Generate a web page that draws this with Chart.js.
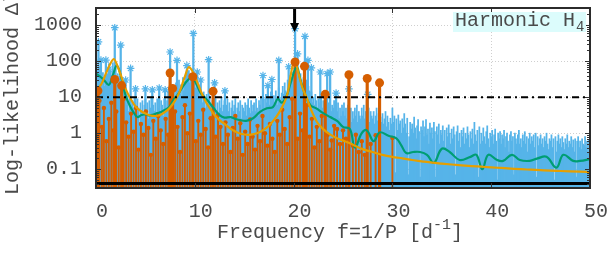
<!DOCTYPE html>
<html>
<head>
<meta charset="utf-8">
<script src="https://cdn.jsdelivr.net/npm/chart.js@4.4.0/dist/chart.umd.min.js"></script>
<style>
  html, body { margin: 0; padding: 0; background: #fff; }
  #wrap { width: 607px; height: 264px; }
</style>
</head>
<body>
<div id="wrap"><canvas id="chart" width="607" height="264"></canvas></div>
<script>
/* ---------- data ---------- */
const xTicks = [0, 10, 20, 30, 40, 50];
const yTicks = [0.1, 1, 10, 100, 1000];
const yRange = [0.03, 3000];
const xRange = [0, 50];

// dense periodogram, one value every 0.1 d^-1 (rows = 1 d^-1)
const specStep = 0.1;
const specVal = [
  30, 55, 18, 40, 70, 25, 12, 48, 33, 20,
  60, 22, 45, 85, 30, 55, 40, 90, 35, 50,
  70, 28, 45, 20, 38, 15, 25, 10, 18, 8,
  14, 6, 11, 4, 9, 7, 3, 8, 5, 10,
  6, 3, 9, 5, 2, 7, 4, 8, 3, 6,
  9, 4, 7, 2.5, 8, 5, 10, 3, 6, 4,
  7, 3, 9, 5, 11, 4, 8, 6, 3, 9,
  12, 5, 8, 15, 6, 20, 9, 13, 7, 18,
  10, 25, 8, 16, 30, 12, 22, 9, 35, 15,
  28, 45, 20, 38, 55, 25, 40, 30, 60, 22,
  35, 18, 28, 12, 22, 9, 16, 11, 7, 14,
  9, 5, 12, 7, 4, 10, 6, 3, 8, 5,
  6, 9, 4, 7, 3, 8, 5, 10, 4, 6,
  8, 3, 6, 9, 4, 7, 2.5, 5, 8, 4,
  6, 9, 3, 5, 7, 4, 8, 2.5, 6, 5,
  4, 7, 3, 6, 9, 5, 3.5, 8, 4, 6,
  7, 4, 9, 5, 3, 8, 6, 10, 4, 7,
  9, 5, 12, 7, 4, 10, 6, 14, 8, 5,
  11, 7, 15, 9, 6, 18, 10, 8, 13, 20,
  12, 25, 15, 9, 30, 18, 40, 22, 35, 50,
  45, 80, 60, 35, 55, 40, 28, 45, 30, 20,
  35, 25, 18, 30, 12, 20, 15, 9, 14, 7,
  10, 6, 12, 8, 5, 9, 4, 7, 11, 5,
  8, 4, 9, 6, 3, 7, 5, 10, 4, 6,
  5, 8, 3, 6, 4, 7, 2.5, 5, 3, 6,
  4, 7, 3, 5, 2.5, 6, 4, 3, 5, 2,
  4, 2.5, 5, 3, 6, 2, 4, 3, 2.5, 5,
  3, 6, 2.5, 4, 8, 3, 5, 2, 4, 3,
  2.5, 4, 1.8, 3, 5, 2.2, 3.5, 0.06, 2.8, 2,
  3.5, 1.8, 2.5, 4, 1.5, 3, 2, 1.2, 2.6, 1.8,
  5, 2, 3, 0.08, 2.5, 1.2, 3.2, 1.8, 2.2, 1,
  2.5, 1.4, 3.5, 1.8, 1, 2.6, 0.07, 0.8, 2, 1.3,
  1.8, 1, 2.8, 1.4, 0.7, 1.6, 2.4, 1.1, 0.06, 1.5,
  1.2, 2.2, 0.8, 1.5, 2.4, 0.9, 1.3, 0.5, 1.9, 1,
  1.4, 0.7, 2, 1.1, 0.06, 1.5, 0.9, 1.8, 0.5, 1.2,
  0.9, 1.6, 0.6, 1.2, 0.4, 1.4, 0.8, 1.7, 1, 0.5,
  1.3, 0.7, 1.5, 0.9, 0.07, 1.1, 1.6, 0.6, 1, 0.4,
  1.2, 0.8, 1.4, 0.5, 1, 0.7, 1.5, 0.9, 0.4, 1.1,
  0.7, 1.3, 0.5, 2, 0.9, 0.6, 1.2, 0.06, 1.5, 0.5,
  1, 0.6, 1.4, 0.8, 0.5, 1.1, 1.6, 0.7, 0.4, 1,
  0.8, 1.2, 0.5, 0.9, 1.3, 0.6, 0.05, 1, 0.7, 1.1,
  0.5, 0.9, 0.7, 1.2, 0.4, 0.8, 1, 0.6, 0.3, 0.9,
  1.1, 0.6, 0.8, 0.07, 1, 0.7, 0.5, 0.9, 1.2, 0.5,
  0.7, 0.4, 0.9, 0.6, 1.1, 0.5, 0.8, 0.3, 0.7, 1,
  0.5, 0.8, 0.6, 0.9, 0.4, 1, 0.06, 0.8, 0.45, 0.7,
  0.9, 0.5, 0.7, 0.4, 0.8, 0.6, 1, 0.5, 0.35, 0.7,
  0.6, 0.9, 0.4, 0.7, 0.05, 0.8, 0.3, 0.6, 0.9, 0.5,
  0.7, 0.4, 0.8, 0.55, 0.35, 0.7, 0.5, 0.9, 0.4, 0.6,
  0.5, 0.8, 0.4, 0.65, 0.3, 0.7, 0.06, 0.6, 0.8, 0.4,
  0.6, 0.35, 0.7, 0.5, 0.45, 0.8, 0.4, 0.6, 0.3, 0.65,
  0.5
];

// strongest single-frequency peaks (asterisks)
const starFreq = [0.25, 0.5, 1.0, 1.3, 1.9, 2.5, 3.0, 3.5, 4.0, 5.0, 5.7, 6.4, 7.0, 7.5, 8.2, 9.2, 9.85, 10.25, 10.6, 11.4, 12.0, 13.05, 16.9, 17.4, 17.8, 18.5, 19.5, 20.15, 20.4, 21.15, 21.45, 21.8, 22.7, 23.4, 23.7, 24.3, 25.6, 27.5];
const starVal  = [345, 107, 107, 60, 850, 280, 30, 63, 17, 17, 16, 18, 16, 180, 105, 75, 590, 50, 30, 110, 25, 15, 40, 21, 31, 105, 70, 800, 160, 490, 105, 65, 50, 45, 50, 13, 17, 12];

// harmonic H4 terms, main ones
const hMajFreq = [0.2, 1.9, 2.6, 7.5, 7.75, 9.8, 11.85, 20.15, 21.1, 23.2, 25.6, 27.45, 28.7];
const hMajVal  = [15, 31, 21, 47, 17.5, 37, 14.5, 95, 72, 12, 42, 33, 25];

// harmonic H4 terms, small ones
const hMinFreq = [0.1, 0.35, 0.6, 0.8, 1.05, 1.3, 1.55, 1.75, 2.05, 2.3, 2.8, 3.05, 3.3, 3.55, 3.8, 4.05, 4.3, 4.55, 4.8, 5.05, 5.3, 5.55, 5.8, 6.05, 6.3, 6.55, 6.8, 7.05, 7.3, 8.0, 8.25, 8.5, 8.75, 9.0, 9.25, 9.5, 10.1, 10.35, 10.6, 10.85, 11.1, 11.35, 11.6, 12.1, 12.35, 12.6, 12.85, 13.1, 13.35, 13.6, 13.85, 14.1, 14.35, 14.6, 14.85, 15.1, 15.35, 15.6, 15.85, 16.1, 16.35, 16.6, 16.85, 17.1, 17.35, 17.6, 17.85, 18.1, 18.35, 18.6, 18.85, 19.1, 19.35, 19.6, 19.85, 20.4, 20.65, 20.9, 21.35, 21.6, 21.85, 22.1, 22.35, 22.6, 22.85, 23.45, 23.7, 23.85, 24.1, 24.4, 24.7, 25.0, 25.3, 26.0, 26.3, 26.6, 26.9, 27.2, 27.8, 28.3, 30.0];
const hMinVal  = [3, 8, 1.5, 5, 0.6, 2.5, 7, 1.2, 4, 0.4, 9, 2, 0.8, 3.5, 1.1, 5, 0.35, 1.8, 0.9, 4, 1.4, 0.25, 2.2, 0.7, 3, 1.2, 0.5, 2.5, 0.9, 4, 1.5, 0.3, 2.8, 6, 1, 3.5, 0.6, 2.2, 0.9, 4.5, 1.3, 0.4, 2.6, 0.8, 3.2, 1.5, 0.5, 2, 0.9, 0.3, 1.4, 3, 0.7, 1.9, 0.25, 1.1, 0.5, 2.4, 0.8, 0.35, 1.6, 0.6, 3, 1, 0.45, 1.8, 0.7, 0.3, 2.2, 0.9, 4.5, 1.3, 0.5, 2.8, 9, 0.7, 3.5, 1.2, 6, 0.8, 2.5, 0.4, 1.5, 0.6, 3, 0.9, 0.35, 0.63, 1.6, 1.3, 0.5, 1.2, 0.7, 0.45, 0.9, 0.3, 0.6, 0.25, 0.5, 0.88, 0.74];

// smoothed likelihood (green)
const smoothFreq = [0, 0.4, 0.8, 1.3, 1.7, 2.1, 2.5, 3.0, 3.4, 3.8, 4.2, 4.6, 5.0, 5.4, 5.8, 6.2, 6.6, 7.0, 7.4, 7.9, 8.3, 8.8, 9.3, 9.7, 10.1, 10.6, 11.0, 11.4, 11.9, 12.5, 13.0, 13.6, 14.1, 14.6, 15.2, 15.9, 16.6, 17.3, 17.9, 18.4, 18.8, 19.3, 19.7, 20.3, 20.7, 21.2, 21.7, 22.3, 23.0, 23.7, 24.4, 25.0, 25.7, 26.2, 26.9, 27.4, 28.1, 28.7, 29.6, 30.4, 30.9, 31.4, 32.1, 32.8, 33.5, 34.2, 35.0, 35.8, 36.8, 37.9, 38.5, 39.1, 39.7, 40.6, 41.2, 42.1, 42.9, 43.9, 44.7, 45.6, 46.6, 47.3, 48.3, 49.0, 50];
const smoothVal  = [45, 38, 30, 22, 40, 75, 40, 11, 6, 3.8, 2.8, 3.2, 3.3, 3.1, 3.3, 3.6, 3.9, 4.5, 5.3, 9, 12, 20, 30, 36, 25, 13, 10, 7.5, 5, 3.2, 2.7, 2.8, 2.5, 2.3, 2.2, 2.6, 3.9, 4.9, 5.3, 9, 7, 11, 25, 68, 30, 11, 6, 4.9, 3.6, 2.8, 2.2, 1.5, 1.3, 0.4, 1.0, 1.2, 0.6, 1.05, 0.85, 0.72, 0.46, 0.28, 0.3, 0.3, 0.25, 0.15, 0.37, 0.3, 0.18, 0.22, 0.25, 0.1, 0.25, 0.18, 0.17, 0.25, 0.18, 0.17, 0.2, 0.22, 0.11, 0.25, 0.17, 0.17, 0.19];

// model profile (yellow)
const modelFreq = [0, 0.5, 1, 1.5, 1.8, 2.2, 2.6, 3, 3.5, 4, 4.5, 5, 5.5, 6, 6.5, 7, 7.5, 8, 8.5, 9, 9.4, 9.8, 10.2, 10.6, 11, 11.5, 12, 12.5, 13, 13.5, 14, 14.5, 15, 15.5, 16, 16.5, 17, 17.5, 18, 18.5, 19, 19.4, 19.7, 20.1, 20.5, 20.9, 21.3, 21.7, 22, 22.5, 23, 23.5, 24, 24.5, 25, 25.5, 26, 27, 28, 29, 30, 31, 32, 33, 34, 35, 36, 37, 38, 39, 40, 41, 42, 43, 44, 45, 46, 47, 48, 49, 50];
const modelVal  = [17, 22, 45, 90, 115, 70, 35, 17, 9, 5.5, 4.2, 3.5, 3.1, 3.0, 3.2, 3.9, 5.2, 8, 15, 38, 68, 50, 28, 15, 8.5, 5, 3.2, 2.3, 1.8, 1.4, 1.15, 1.0, 0.92, 0.9, 0.95, 1.05, 1.25, 1.6, 2.3, 3.6, 6.5, 13, 40, 110, 45, 18, 10, 5, 3.2, 1.8, 1.3, 1.0, 0.82, 0.7, 0.62, 0.55, 0.48, 0.36, 0.3, 0.25, 0.22, 0.2, 0.18, 0.165, 0.152, 0.143, 0.135, 0.128, 0.122, 0.117, 0.112, 0.108, 0.104, 0.1, 0.097, 0.094, 0.091, 0.089, 0.087, 0.085, 0.083];

const threshold = 10;     // dash-dot level
const floorLevel = 0.04;  // thick black base line
const arrowAt = [20.1, 650];

/* ---------- helpers ---------- */
const pts = (xs, ys) => xs.map((x, i) => ({ x: x, y: ys[i] }));
const specFreq = specVal.map((_, i) => +(i * specStep).toFixed(1));
const FONT = "'Liberation Mono', 'DejaVu Sans Mono', monospace";
const TXT = '#4a4a4a';

const C_BLUE = '#56B4E9', C_ORANGE = '#D55E00', C_GREEN = '#009E73', C_YELLOW = '#E69F00';

/* ---------- drawing extras: frame, ticks, arrow, labels ---------- */
const decor = {
  id: 'decor',
  afterDatasetsDraw(chart) {
    const { ctx, chartArea: a, scales: { x, y } } = chart;
    ctx.save();

    // inner tick marks
    ctx.strokeStyle = '#333';
    ctx.lineWidth = 1;
    ctx.beginPath();
    xTicks.forEach(v => {
      const px = Math.round(x.getPixelForValue(v)) + 0.5;
      ctx.moveTo(px, a.top); ctx.lineTo(px, a.top + 5);
      ctx.moveTo(px, a.bottom); ctx.lineTo(px, a.bottom - 5);
    });
    for (let d = -2; d <= 3; d++) {
      for (let m = 1; m <= 9; m++) {
        const v = m * Math.pow(10, d);
        if (v < yRange[0] || v > yRange[1]) continue;
        const py = Math.round(y.getPixelForValue(v)) + 0.5;
        const len = m === 1 ? 5 : 3;
        ctx.moveTo(a.left, py); ctx.lineTo(a.left + len, py);
        ctx.moveTo(a.right, py); ctx.lineTo(a.right - len, py);
      }
    }
    ctx.stroke();

    // arrow marking the main frequency
    const ax = x.getPixelForValue(arrowAt[0]);
    const tip = y.getPixelForValue(arrowAt[1]);
    ctx.strokeStyle = '#000';
    ctx.fillStyle = '#000';
    ctx.lineWidth = 3;
    ctx.beginPath();
    ctx.moveTo(ax, a.top);
    ctx.lineTo(ax, tip - 7);
    ctx.stroke();
    ctx.beginPath();
    ctx.moveTo(ax - 4.5, tip - 9);
    ctx.lineTo(ax + 4.5, tip - 9);
    ctx.lineTo(ax, tip);
    ctx.closePath();
    ctx.fill();

    // frame
    ctx.strokeStyle = '#2b2b2b';
    ctx.lineWidth = 2;
    ctx.strokeRect(a.left, a.top, a.right - a.left, a.bottom - a.top);

    // title box
    const bw = 133, bh = 20;
    const bx = a.right - 4 - bw, by = a.top + 4;
    ctx.fillStyle = '#dcfcfc';
    ctx.fillRect(bx, by, bw, bh);
    ctx.fillStyle = TXT;
    ctx.textBaseline = 'alphabetic';
    ctx.textAlign = 'left';
    ctx.font = '20px ' + FONT;
    ctx.fillText('Harmonic H', bx + 2, by + 14);
    const w = ctx.measureText('Harmonic H').width;
    ctx.font = '14px ' + FONT;
    ctx.fillText('4', bx + 2 + w + 1, by + 19);
    ctx.restore();
  },
  afterDraw(chart) {
    const { ctx } = chart;
    ctx.save();
    ctx.fillStyle = TXT;
    ctx.textBaseline = 'alphabetic';
    ctx.textAlign = 'left';

    // x label with superscript
    ctx.font = '20px ' + FONT;
    const base = 'Frequency f=1/P [d';
    let px = 217;
    ctx.fillText(base, px, 238);
    px += ctx.measureText(base).width;
    ctx.font = '15px ' + FONT;
    ctx.fillText('-1', px, 229);
    px += ctx.measureText('-1').width;
    ctx.font = '20px ' + FONT;
    ctx.fillText(']', px, 238);

    // y label, runs off the top edge like the original
    ctx.translate(18, 195);
    ctx.rotate(-Math.PI / 2);
    ctx.fillText('Log-likelihood \u0394lnL', 0, 0);
    ctx.restore();
  }
};

/* ---------- chart ---------- */
const ctx = document.getElementById('chart');
new Chart(ctx, {
  type: 'scatter',
  data: {
    datasets: [
      { type: 'line', data: [{ x: xRange[0], y: threshold }, { x: xRange[1], y: threshold }],
        borderColor: '#000', borderWidth: 2, borderDash: [7, 4, 2, 4], pointRadius: 0, order: 0, clip: 0 },
      { type: 'line', data: [{ x: xRange[0], y: floorLevel }, { x: xRange[1], y: floorLevel }],
        borderColor: '#000', borderWidth: 3, pointRadius: 0, order: 0, clip: 0 },
      { type: 'scatter', data: pts(hMajFreq, hMajVal), pointRadius: 4.5, pointBackgroundColor: C_ORANGE,
        pointBorderWidth: 0, order: 1, clip: 0 },
      { type: 'line', data: pts(modelFreq, modelVal), borderColor: C_YELLOW, borderWidth: 2.2,
        pointRadius: 0, cubicInterpolationMode: 'monotone', order: 2, clip: 0 },
      { type: 'line', data: pts(smoothFreq, smoothVal), borderColor: C_GREEN, borderWidth: 2.2,
        pointRadius: 0, tension: 0.4, order: 3, clip: 0 },
      { type: 'bar', data: pts(hMajFreq, hMajVal), backgroundColor: C_ORANGE, barThickness: 2.5,
        grouped: false, order: 4, clip: 0 },
      { type: 'scatter', data: pts(hMinFreq, hMinVal), pointRadius: 2.2, pointBackgroundColor: C_ORANGE,
        pointBorderWidth: 0, order: 5, clip: 0 },
      { type: 'bar', data: pts(hMinFreq, hMinVal), backgroundColor: C_ORANGE, barThickness: 1.2,
        grouped: false, order: 6, clip: 0 },
      { type: 'scatter', data: pts(starFreq, starVal), pointStyle: 'star', pointRadius: 3.8,
        pointBorderColor: C_BLUE, pointBorderWidth: 1.2, order: 7, clip: 0 },
      { type: 'bar', data: pts(starFreq, starVal), backgroundColor: C_BLUE, barThickness: 1.6,
        grouped: false, order: 8, clip: 0 },
      { type: 'bar', data: pts(specFreq, specVal), backgroundColor: C_BLUE, barThickness: 1.1,
        grouped: false, order: 9, clip: 0 }
    ]
  },
  options: {
    responsive: false,
    animation: false,
    events: [],
    layout: { padding: { top: 8, right: 17, left: 0, bottom: 0 } },
    plugins: { legend: { display: false }, tooltip: { enabled: false } },
    scales: {
      x: {
        type: 'linear', min: xRange[0], max: xRange[1], offset: false,
        afterBuildTicks: s => { s.ticks = xTicks.map(v => ({ value: v })); },
        afterFit: s => { s.height = 76; s.paddingLeft = 0; s.paddingRight = 0; },
        ticks: { autoSkip: false, maxRotation: 0, labelOffset: 6, padding: 12,
                 color: TXT, font: { family: FONT, size: 20 } },
        grid: { offset: false, drawTicks: false, color: '#cfcfcf', lineWidth: 1 },
        border: { display: false, dash: [1, 2] }
      },
      y: {
        type: 'logarithmic', min: yRange[0], max: yRange[1], beginAtZero: false,
        afterBuildTicks: s => { s.ticks = yTicks.map(v => ({ value: v })); },
        afterFit: s => { s.width = 96; s.paddingTop = 0; s.paddingBottom = 0; },
        ticks: { autoSkip: false, padding: 14, color: TXT, font: { family: FONT, size: 20 },
                 callback: v => String(v) },
        grid: { drawTicks: false, color: '#cfcfcf', lineWidth: 1 },
        border: { display: false, dash: [1, 2] }
      }
    }
  },
  plugins: [decor]
});
</script>
</body>
</html>
